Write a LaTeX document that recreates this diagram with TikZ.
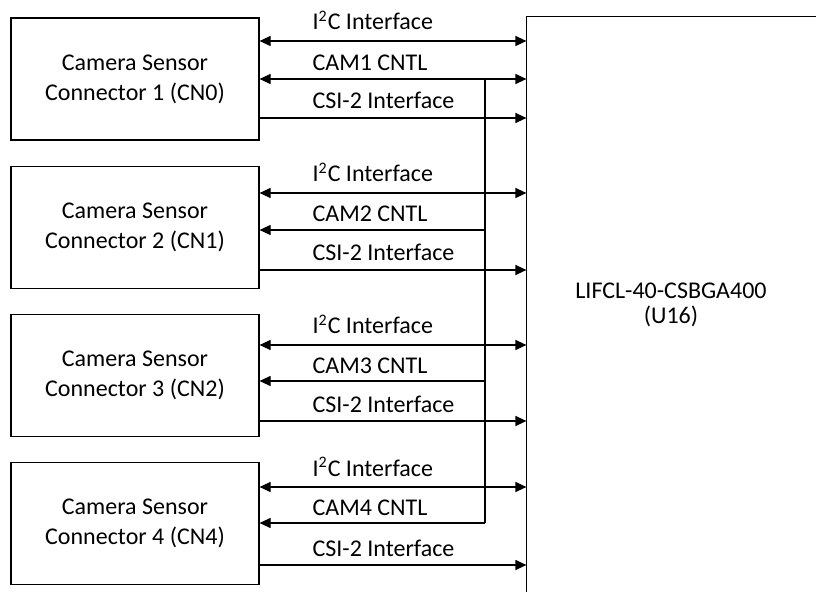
\documentclass[tikz,border=0pt]{standalone}
\usepackage{fontspec}
\setmainfont{Carlito}
\usetikzlibrary{arrows.meta, positioning}

\begin{document}
\begin{tikzpicture}[
    x=0.5pt, y=-0.5pt, line width=0.6pt,
    >={Triangle[length=5.5pt, width=5pt]},
    cambox/.style={rectangle, draw, minimum width=124pt, minimum height=61pt, align=center, font=\fontsize{12}{15}\selectfont},
    chip/.style={rectangle, minimum width=144pt, minimum height=287.5pt, align=center, font=\fontsize{12}{12.5}\selectfont},
    sig/.style={anchor=base west, inner sep=0pt, font=\fontsize{12}{14}\selectfont}
]
    \useasboundingbox (0,0) rectangle (817,592);

    % Camera connectors
    \node[cambox] (cam1) at (135,79) {Camera Sensor\\Connector 1 (CN0)};
    \node[cambox, below=12.5pt of cam1] (cam2) {Camera Sensor\\Connector 2 (CN1)};
    \node[cambox, below=12.5pt of cam2] (cam3) {Camera Sensor\\Connector 3 (CN2)};
    \node[cambox, below=12.5pt of cam3] (cam4) {Camera Sensor\\Connector 4 (CN4)};

    % FPGA (only top and left edges visible)
    \node[chip] (fpga) at (671,304.5) {LIFCL-40-CSBGA400\\(U16)};
    \draw (fpga.north east) -- (fpga.north west) -- (fpga.south west);

    % I2C and CSI-2 links
    \foreach \n/\i/\s in {1/41/118, 2/193/270, 3/345/421, 4/487/565} {
        \draw[<->] (cam\n.east |- 0,\i) -- (fpga.west |- 0,\i);
        \node[sig] (i2c\n) at (312,{\i-11}) {I\textsuperscript{2}C Interface};
        \draw[->] (cam\n.east |- 0,\s) -- (fpga.west |- 0,\s);
        \node[sig] (csi\n) at (312,{\s-9}) {CSI-2 Interface};
    }

    % CNTL bus
    \coordinate (bustop) at (485,79);
    \coordinate (busbot) at (485,523);
    \draw (bustop) -- (busbot);
    \draw[<->] (cam1.east |- bustop) -- (fpga.west |- bustop);
    \node[sig] (cntl1) at (312,71) {CAM1 CNTL};
    \foreach \n/\c in {2/230, 3/381, 4/523} {
        \draw[->] (bustop |- 0,\c) -- (cam\n.east |- 0,\c);
        \node[sig] (cntl\n) at (312,{\c-8}) {CAM\n\ CNTL};
    }
\end{tikzpicture}
\end{document}
